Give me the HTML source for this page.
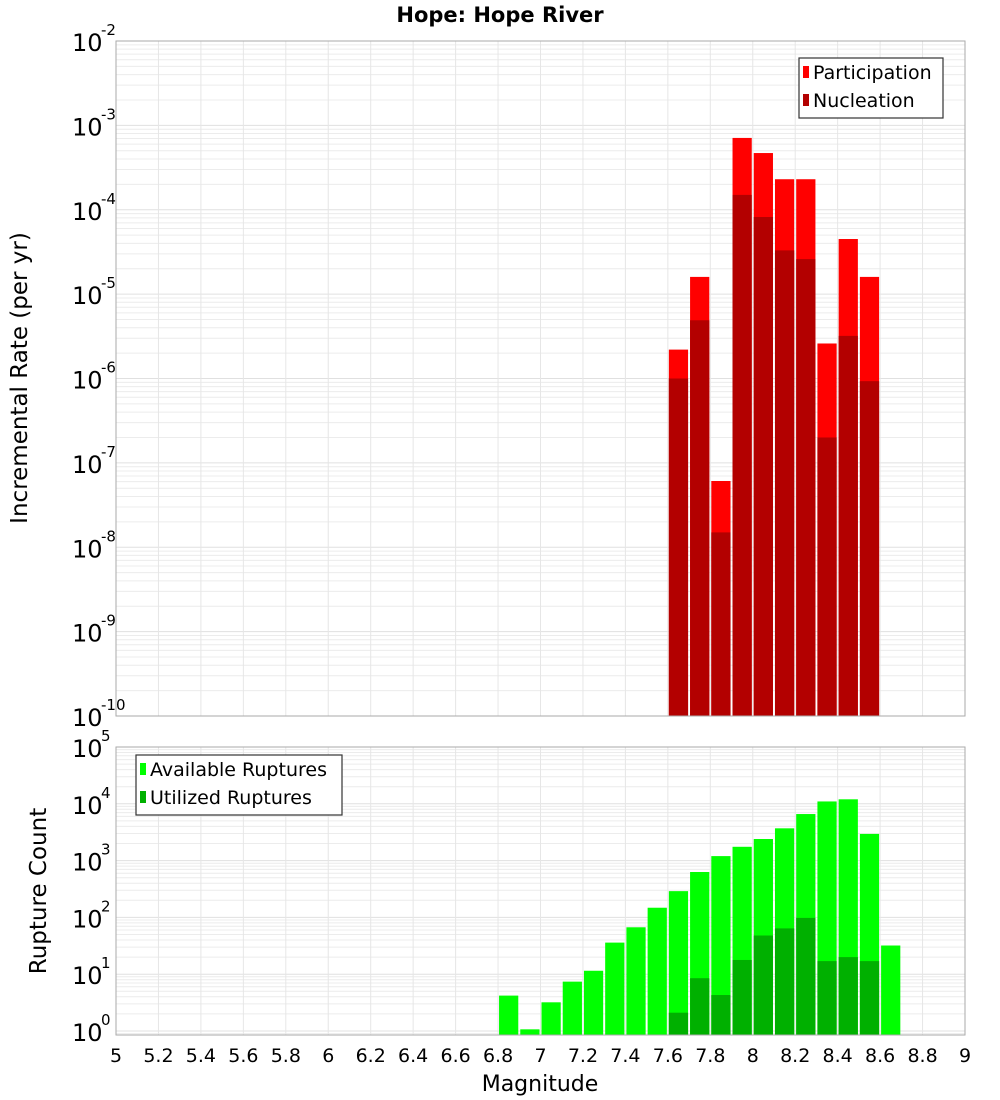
<!DOCTYPE html>
<html><head><meta charset="utf-8"><style>
html,body{margin:0;padding:0;background:#fff;}
svg{display:block;font-family:"DejaVu Sans","Liberation Sans",sans-serif;}
</style></head><body>
<svg id="c" width="1000" height="1100" viewBox="0 0 1000 1100"></svg>
<script>
const bins = [6.85,6.95,7.05,7.15,7.25,7.35,7.45,7.55,7.65,7.75,7.85,7.95,8.05,8.15,8.25,8.35,8.45,8.55,8.65];
const rateBins = [7.65,7.75,7.85,7.95,8.05,8.15,8.25,8.35,8.45,8.55];
const participation = [2.2e-6,1.6e-5,6.1e-8,7.1e-4,4.7e-4,2.3e-4,2.3e-4,2.6e-6,4.5e-5,1.6e-5];
const nucleation = [1.0e-6,4.9e-6,1.5e-8,1.5e-4,8.2e-5,3.3e-5,2.6e-5,2.0e-7,3.2e-6,9.3e-7];
const available = [4.2,1.07,3.2,7.4,11.5,36,67,148,290,630,1200,1750,2400,3700,6600,11000,12000,2950,32];
const utilized = [0,0,0,0,0,0,0,0,2.1,8.5,4.3,17.8,48,64,98,17,20,17,0];
const xTicks = ["5","5.2","5.4","5.6","5.8","6","6.2","6.4","6.6","6.8","7","7.2","7.4","7.6","7.8","8","8.2","8.4","8.6","8.8","9"];
const topExps = [-2,-3,-4,-5,-6,-7,-8,-9,-10];
const botExps = [5,4,3,2,1,0];

const NS="http://www.w3.org/2000/svg";
const svg=document.getElementById('c');
function el(tag,attrs,parent){const e=document.createElementNS(NS,tag);for(const k in attrs)e.setAttribute(k,attrs[k]);(parent||svg).appendChild(e);return e;}
const X0=116,X1=965;
function xs(m){return X0+(m-5)/4*(X1-X0);}
const T0=41,T1=716;
function yTop(v){return T0+(-2-Math.log10(v))*(T1-T0)/8;}
const B0=747,B1=1035;
const BD=56.8;
function yBot(v){return B0+(5-Math.log10(v))*BD;}

function grid(yf,top,bottom,expHi,expLo,name){
  const g=el('g',{});
  
  
  for(let e=expLo-1;e<=expHi;e++){for(let k=1;k<10;k++){const v=k*Math.pow(10,e);const y=yf(v);if(y<top||y>bottom)continue;
    el('line',{x1:X0,x2:X1,y1:y,y2:y,stroke:k===1?'#e0e0e0':'#ececec','stroke-width':1},g);}}
  for(let i=0;i<xTicks.length;i++){const x=xs(5+i*0.2);el('line',{x1:x,x2:x,y1:top,y2:bottom,stroke:'#e6e6e6','stroke-width':1},g);}
}
grid(yTop,T0,T1,-2,-10,'top-grid');
grid(yBot,B0,B1,5,0,'bottom-grid');

function bars(binsArr,vals,yf,base,color,name){
  const g=el('g',{});
  
  
  binsArr.forEach((m,i)=>{const v=vals[i];if(!v)return;const x=xs(m-0.05)+1;const w=xs(m+0.05)-xs(m-0.05)-2;const y=yf(v);
    const r=el('rect',{x:x,y:y,width:w,height:base-y,fill:color},g);
    
    });
}
bars(rateBins,participation,yTop,T1,'#ff0000','participation');
bars(rateBins,nucleation,yTop,T1,'#b30000','nucleation');
bars(bins,available,yBot,B1,'#00ff00','available-ruptures');
bars(bins,utilized,yBot,B1,'#00b000','utilized-ruptures');

el('rect',{x:X0,y:T0,width:X1-X0,height:T1-T0,fill:'none',stroke:'#aaa','stroke-width':1});
el('rect',{x:X0,y:B0,width:X1-X0,height:B1-B0,fill:'none',stroke:'#aaa','stroke-width':1});

function yLabels(exps,yf,name){
  const g=el('g',{});
  
  
  exps.forEach(e=>{const y=yf(Math.pow(10,e));
    const t=el('text',{x:72,y:y+10,'font-size':24,fill:'#000'},g);t.textContent='10';
    const s=el('text',{x:101,y:y-6,'font-size':15,fill:'#000'},g);s.textContent=String(e);});
}
yLabels(topExps,yTop,'top-y-ticks');
yLabels(botExps,yBot,'bottom-y-ticks');

const xg=el('g',{});


xTicks.forEach((l,i)=>{const t=el('text',{x:xs(5+i*0.2),y:1062,'font-size':19,'text-anchor':'middle'},xg);t.textContent=l;});

let t;
t=el('text',{x:500,y:22,'font-size':21,'font-weight':'bold','text-anchor':'middle'});t.textContent='Hope: Hope River';

t=el('text',{x:540,y:1091,'font-size':22,'text-anchor':'middle'});t.textContent='Magnitude';

t=el('text',{x:0,y:0,'font-size':23,'text-anchor':'middle',transform:'translate(27,378) rotate(-90)'});t.textContent='Incremental Rate (per yr)';

t=el('text',{x:0,y:0,'font-size':23,'text-anchor':'middle',transform:'translate(46,891) rotate(-90)'});t.textContent='Rupture Count';


function legend(x,y,w,items,name){
  const g=el('g',{});
  
  
  el('rect',{x:x,y:y,width:w,height:60,fill:'#fff',stroke:'#333','stroke-width':1.2},g);
  items.forEach((it,i)=>{el('rect',{x:x+4,y:y+8+i*28,width:6,height:12,fill:it[1]},g);
    const tt=el('text',{x:x+14,y:y+21+i*28,'font-size':19},g);tt.textContent=it[0];});
}
legend(799,58,144,[['Participation','#ff0000'],['Nucleation','#b30000']],'top-legend');
legend(136,755,206,[['Available Ruptures','#00ff00'],['Utilized Ruptures','#00b000']],'bottom-legend');
</script>
</body></html>
